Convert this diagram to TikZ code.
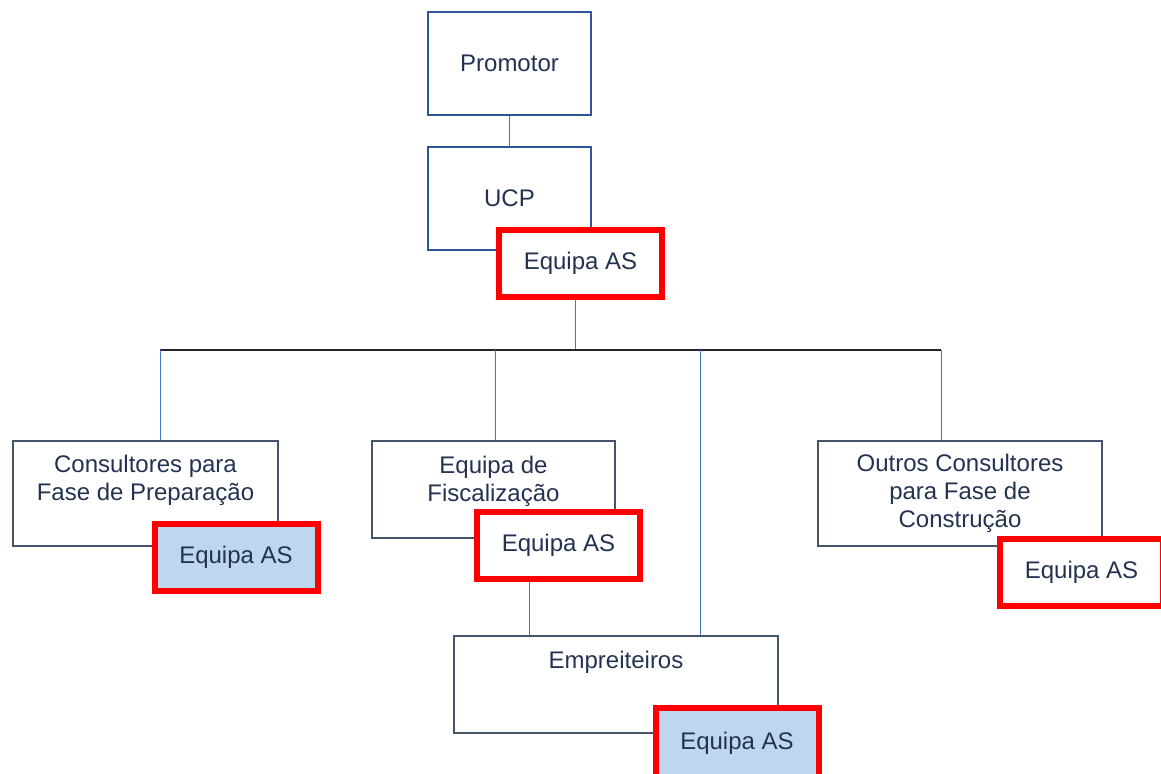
\documentclass[tikz,border=0pt]{standalone}
\usepackage{fontspec}
\setmainfont{Liberation Sans}
\usepackage{tikz}
\usetikzlibrary{positioning,calc}

\definecolor{topcol}{RGB}{47,85,151}
\definecolor{boxcol}{RGB}{68,84,106}
\definecolor{lncol}{RGB}{68,114,196}
\definecolor{buscol}{RGB}{38,38,38}
\definecolor{txtcol}{RGB}{36,50,82}
\definecolor{asfill}{RGB}{189,215,238}

\begin{document}
\begin{tikzpicture}
	[
	 x = 0.5pt,
	 y = -0.5pt,
	 every node/.style = {shape=rectangle,
		                  align=center,
		                  inner sep = 0pt,
		                  text = txtcol,
		                  font=\fontsize{12}{14}\selectfont
	                     },
	BT/.style  = {draw=topcol, line width=1pt,
		          minimum width=81.5pt, minimum height=51.5pt},
	BX/.style  = {draw=boxcol, line width=1pt},
	AS/.style  = {draw=red, line width=3pt, fill=white,
		          minimum width=81.5pt, minimum height=33.5pt},
	ASF/.style = {AS, fill=asfill},
	LN/.style  = {draw=lncol, line width=0.5pt},
	BUS/.style = {draw=buscol, line width=0.7pt}
	]
	
	\useasboundingbox (0,0) rectangle (1161,773);
	
	\newcommand{\EAS}{Equipa AS}
	\newcommand{\CFP}{Consultores para\\Fase de Preparação}
	\newcommand{\EDF}{Equipa de\\Fiscalização}
	\newcommand{\OCF}{Outros Consultores\\para Fase de\\Construção}
	
	\coordinate (H)  at (575,350);
	\coordinate (H1) at (160,350);
	\coordinate (H2) at (495,350);
	\coordinate (H3) at (700,350);
	\coordinate (H4) at (941,350);
	\coordinate (H5) at (529,600);
	
	\node [BT] (P) at (509.5,63)    {Promotor};
	\node [BT] (U) at (509.5,198.5) {UCP};
	\node [AS] (U1) at (580.5,263.5) {\EAS};
	
	\node [BX, minimum width=132.5pt, minimum height=52.5pt] (C1) at (145.5,493.5) {};
	\node [below=7.5pt of C1.north] (T1) {\CFP};
	\node [ASF] (C1a) at (236,557) {\EAS};
	
	\node [BX, minimum width=121.5pt, minimum height=48.5pt] (C2) at (493.5,489.5) {};
	\node [below=8pt of C2.north] (T2) {\EDF};
	\node [AS] (C2a) at (558.5,545.5) {\EAS};
	
	\node [BX, minimum width=162pt, minimum height=48.5pt] (C3) at (616,684.5) {};
	\node [below=8pt of C3.north] (T3) {Empreiteiros};
	\node [ASF, minimum height=35pt] (C3a) at (737,743) {\EAS};
	
	\node [BX, minimum width=142pt, minimum height=52.5pt] (C4) at (960,493.5) {\OCF};
	\node [AS] (C4a) at (1081.5,572.5) {\EAS};
	
	\draw [LN]  (P) -- (U);
	\draw [LN]  (U1.south -| H) -- (H);
	\draw [BUS] (H1) -- (H4);
	\draw [LN]  (H1) -- (H1 |- C1.north);
	\draw [LN]  (H2) -- (H2 |- C2.north);
	\draw [LN]  (H3) -- (H3 |- C3.north);
	\draw [LN]  (H4) -- (H4 |- C4.north);
	\draw [LN]  (H5 |- C2a.south) -- (H5 |- C3.north);
\end{tikzpicture}
\end{document}
